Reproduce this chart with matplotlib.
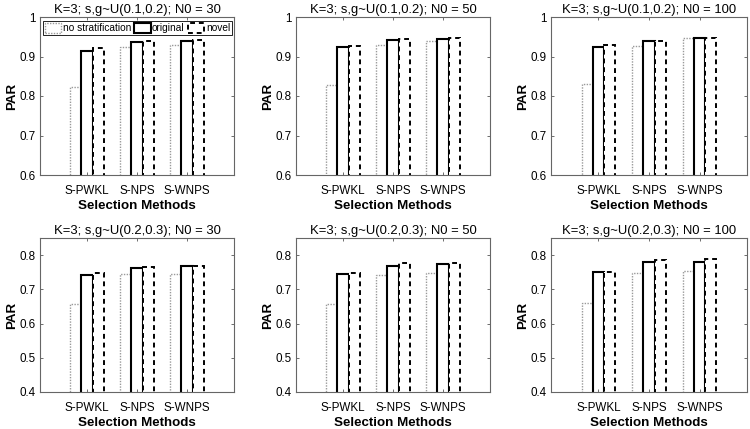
import matplotlib
matplotlib.use("Agg")
import matplotlib.pyplot as plt
from matplotlib.patches import Patch
import numpy as np

plt.rcParams['font.family'] = ['Liberation Sans', 'DejaVu Sans']

methods = ['S-PWKL', 'S-NPS', 'S-WNPS']
series = ['no stratification', 'original', 'novel']

# rows: no stratification, original, novel ; cols: S-PWKL, S-NPS, S-WNPS
par_u01_n30 = [[0.824, 0.925, 0.928], [0.915, 0.936, 0.940], [0.921, 0.940, 0.943]]
par_u01_n50 = [[0.827, 0.928, 0.940], [0.923, 0.943, 0.945], [0.926, 0.945, 0.947]]
par_u01_n100 = [[0.830, 0.927, 0.947], [0.925, 0.939, 0.947], [0.929, 0.940, 0.948]]
par_u02_n30 = [[0.656, 0.745, 0.745], [0.742, 0.761, 0.768], [0.747, 0.764, 0.768]]
par_u02_n50 = [[0.658, 0.742, 0.747], [0.746, 0.768, 0.775], [0.748, 0.778, 0.778]]
par_u02_n100 = [[0.660, 0.749, 0.753], [0.751, 0.779, 0.781], [0.752, 0.785, 0.790]]

titles = ['K=3; s,g~U(0.1,0.2); N0 = 30', 'K=3; s,g~U(0.1,0.2); N0 = 50',
          'K=3; s,g~U(0.1,0.2); N0 = 100', 'K=3; s,g~U(0.2,0.3); N0 = 30',
          'K=3; s,g~U(0.2,0.3); N0 = 50', 'K=3; s,g~U(0.2,0.3); N0 = 100']
panels = [par_u01_n30, par_u01_n50, par_u01_n100, par_u02_n30, par_u02_n50, par_u02_n100]

styles = [dict(edgecolor='#999999', linestyle=(0, (1, 1)), linewidth=1.0),
          dict(edgecolor='black', linestyle='-', linewidth=1.5),
          dict(edgecolor='black', linestyle=(0, (2.5, 2)), linewidth=1.4)]

W, H = 750, 429
fig = plt.figure(figsize=(7.5, 4.29), dpi=100)
lefts = [40, 296, 551]
widths = [194, 194, 196]
rows = [(17, 175), (238, 392)]

axes = []
for r, (top, bot) in enumerate(rows):
    for c in range(3):
        ax = fig.add_axes([lefts[c] / W, 1 - bot / H, widths[c] / W, (bot - top) / H])
        axes.append(ax)

bw = 0.222
x = np.arange(1, 4)
for i, ax in enumerate(axes):
    data = panels[i]
    for s in range(3):
        ax.bar(x + (s - 1) * bw, data[s], width=bw, facecolor='white', **styles[s])
    ax.set_xlim(0.06, 3.94)
    if i < 3:
        ax.set_ylim(0.6, 1.0)
        ax.set_yticks([0.6, 0.7, 0.8, 0.9, 1.0])
        ax.set_yticklabels(['0.6', '0.7', '0.8', '0.9', '1'])
    else:
        ax.set_ylim(0.4, 0.85)
        ax.set_yticks([0.4, 0.5, 0.6, 0.7, 0.8])
        ax.set_yticklabels(['0.4', '0.5', '0.6', '0.7', '0.8'])
    ax.set_xticks(x)
    ax.set_xticklabels(methods)
    ax.tick_params(direction='in', length=2.5, width=0.6, top=True, right=True,
                   color='#555555', labelsize=8.4)
    ax.tick_params(axis='x', pad=7)
    ax.tick_params(axis='y', pad=3)
    for sp in ax.spines.values():
        sp.set_color('#666666')
        sp.set_linewidth(0.8)
    ax.set_title(titles[i], fontsize=9.4, pad=3)
    ax.set_xlabel('Selection Methods', fontsize=9.6, fontweight='bold', labelpad=2)
    ax.set_ylabel('PAR', fontsize=9.6, fontweight='bold', labelpad=1)

handles = [Patch(facecolor='white', **styles[s]) for s in range(3)]
leg = axes[0].legend(handles, series, ncol=3, loc='upper left', mode='expand',
                     bbox_to_anchor=(0.015, 0, 0.975, 0.975), borderaxespad=0,
                     fontsize=7.3, handlelength=1.6, handleheight=1.1,
                     handletextpad=0.15, columnspacing=0.2, borderpad=0.2,
                     fancybox=False, framealpha=1)
leg.get_frame().set_edgecolor('black')
leg.get_frame().set_linewidth(0.6)

fig.savefig('out.png', dpi=100)
